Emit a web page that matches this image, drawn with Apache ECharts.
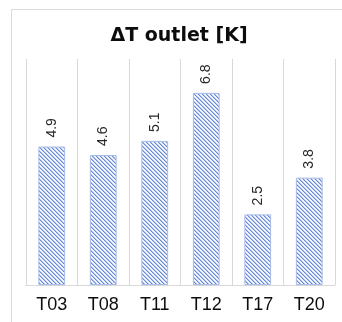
<!DOCTYPE html>
<html>
<head>
<meta charset="utf-8">
<script src="https://cdn.jsdelivr.net/npm/echarts@6/dist/echarts.min.js"></script>
<style>
  html, body { margin: 0; padding: 0; background: #fff; }
  #chart { width: 342px; height: 322px; }
</style>
</head>
<body>
<div id="chart"></div>
<script>
// Outlet temperature difference per test case
const categories = ['T03', 'T08', 'T11', 'T12', 'T17', 'T20'];
const deltaT = [4.9, 4.6, 5.1, 6.8, 2.5, 3.8];
const chartTitle = '\u0394T outlet [K]';

// Diagonal hatch fill for the bars
function makeHatch() {
  const size = 4;
  const c = document.createElement('canvas');
  c.width = size; c.height = size;
  const ctx = c.getContext('2d');
  ctx.fillStyle = '#ffffff';
  ctx.fillRect(0, 0, size, size);
  for (let y = 0; y < size; y++) {
    for (let x = 0; x < size; x++) {
      const d = ((x - y) % size + size) % size;
      if (d === 0) { ctx.fillStyle = '#6a8ad3'; ctx.fillRect(x, y, 1, 1); }
      else if (d === 1) { ctx.fillStyle = '#b3c5ee'; ctx.fillRect(x, y, 1, 1); }
      else if (d === 3) { ctx.fillStyle = '#e6ecf9'; ctx.fillRect(x, y, 1, 1); }
    }
  }
  return c;
}

const chart = echarts.init(document.getElementById('chart'), null, { renderer: 'canvas' });
chart.setOption({
  animation: false,
  backgroundColor: '#ffffff',
  title: {
    text: chartTitle,
    left: 174,
    textAlign: 'center',
    top: 22,
    textStyle: { fontFamily: 'DejaVu Sans', fontSize: 19, fontWeight: 'bold', color: '#0d0d0d' }
  },
  graphic: [{
    type: 'rect',
    shape: { x: 11.5, y: 9.5, width: 340, height: 320 },
    style: { fill: 'none', stroke: '#d9d9d9', lineWidth: 1 },
    silent: true
  }],
  grid: { left: 26, right: 7, top: 59, bottom: 37 },
  xAxis: {
    type: 'category',
    data: categories,
    axisLine: { lineStyle: { color: '#d9d9d9', width: 1 } },
    axisTick: { show: false },
    axisLabel: { fontFamily: 'Liberation Sans, Arial, sans-serif', fontSize: 18, color: '#0d0d0d', margin: 11 },
    splitLine: { show: true, lineStyle: { color: '#d9d9d9', width: 1 } }
  },
  yAxis: {
    type: 'value',
    min: 0,
    max: 8,
    show: false,
    splitLine: { show: false }
  },
  series: [{
    type: 'bar',
    data: deltaT,
    barWidth: '52%',
    itemStyle: {
      color: { image: makeHatch(), repeat: 'repeat' },
      borderColor: '#a6bbe8',
      borderWidth: 1
    },
    label: {
      show: true,
      position: 'top',
      rotate: 90,
      align: 'left',
      verticalAlign: 'middle',
      distance: 9,
      formatter: p => p.value.toFixed(1),
      fontFamily: 'Liberation Sans, Arial, sans-serif',
      fontSize: 14,
      color: '#262626'
    }
  }]
});
</script>
</body>
</html>
